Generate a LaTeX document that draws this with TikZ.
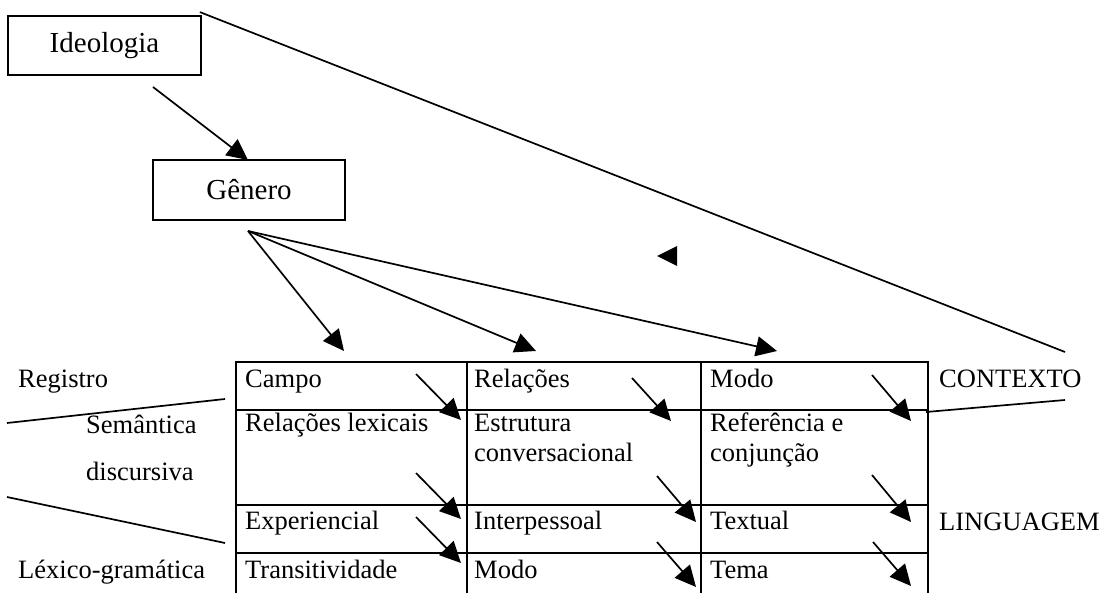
\documentclass[tikz,border=0pt]{standalone}
\usepackage{fontspec}
\setmainfont{Liberation Serif}
\usetikzlibrary{arrows.meta}
\begin{document}
\begin{tikzpicture}[x=1pt,y=-1pt,
  conn/.style={line width=1.7pt},
  arr/.style={line width=1.7pt,-{Triangle[length=21pt,width=20pt]}},
  boxnode/.style={draw,line width=1.8pt,minimum width=193pt,minimum height=59pt,inner sep=0pt,font=\fontsize{29}{34}\selectfont},
  lbl/.style={anchor=base west,inner sep=0pt,font=\fontsize{26.5}{31}\selectfont},
  gridline/.style={line width=2.2pt}]
\useasboundingbox (0,0) rectangle (1102,593);

% boxes
\node[boxnode] (ideo) at (104.5,45.5) {Ideologia};
\node[boxnode,minimum width=192pt,minimum height=60pt] (gen) at (249,190) {Gênero};

% table grid
\foreach \yy in {362,410,505,553} \draw[gridline] (236,\yy) -- (928,\yy);
\foreach \xx in {236,467,701,928} \draw[gridline] (\xx,361) -- (\xx,593);

% cell texts
\node[lbl] (campo) at (245,387) {Campo};
\node[lbl] (rel) at (474,387) {Relações};
\node[lbl] (modo1) at (710,387) {Modo};
\node[lbl] (rellex) at (245,431) {Relações lexicais};
\node[lbl] (estr) at (474,431) {Estrutura};
\node[lbl] (conv) at (474,461) {conversacional};
\node[lbl] (ref) at (710,431) {Referência e};
\node[lbl] (conj) at (710,461) {conjunção};
\node[lbl] (exp) at (245,529) {Experiencial};
\node[lbl] (interp) at (474,529) {Interpessoal};
\node[lbl] (text) at (710,529) {Textual};
\node[lbl] (trans) at (245,578) {Transitividade};
\node[lbl] (modo2) at (474,578) {Modo};
\node[lbl] (tema) at (710,578) {Tema};

% side labels
\node[lbl] (registro) at (18,387) {Registro};
\node[lbl] (seman) at (86,433) {Semântica};
\node[lbl] (disc) at (86,480) {discursiva};
\node[lbl] (lexgr) at (18,578) {Léxico-gramática};
\node[lbl] (contexto) at (939,387) {CONTEXTO};
\node[lbl] (ling) at (939,530) {LINGUAGEM};

% connectors
\coordinate (ia) at (153,87);
\coordinate (gt) at (248,160);
\draw[arr] (ia) -- (gt);

\coordinate (go) at (248,231);
\coordinate (t1) at (344,351);
\coordinate (t2) at (536,351);
\coordinate (t3) at (777,351);
\draw[arr] (go) -- (t1);
\draw[arr] (go) -- (t2);
\draw[arr] (go) -- (t3);

\coordinate (ce1) at (1065,352);
\coordinate (ce2) at (1065,400);
\coordinate (ce3) at (926,412);
\draw[conn] ([shift={(-2,-3)}]ideo.north east) -- (ce1);
\draw[conn] (ce2) -- (ce3);

\coordinate (l1a) at (7,423);
\coordinate (l1b) at (225,399);
\coordinate (l2a) at (7,497);
\coordinate (l2b) at (225,543);
\draw[conn] (l1a) -- (l1b);
\draw[conn] (l2a) -- (l2b);

% cell arrows
\coordinate (c11s) at (416,374); \coordinate (c11e) at (461,420);
\coordinate (c12s) at (416,473); \coordinate (c12e) at (461,519);
\coordinate (c13s) at (416,517); \coordinate (c13e) at (461,563);
\coordinate (c21s) at (632,378); \coordinate (c21e) at (671,421);
\coordinate (c22s) at (657,476); \coordinate (c22e) at (696,522);
\coordinate (c23s) at (657,542); \coordinate (c23e) at (696,587);
\coordinate (c31s) at (872,375); \coordinate (c31e) at (911,421);
\coordinate (c32s) at (872,475); \coordinate (c32e) at (911,522);
\coordinate (c33s) at (873,542); \coordinate (c33e) at (911,586);
\foreach \c in {c11,c12,c13,c21,c22,c23,c31,c32,c33}
  \draw[arr] (\c s) -- (\c e);

% stray arrowhead
\fill (657,256) -- (677,246) -- (677,266) -- cycle;
\end{tikzpicture}
\end{document}
